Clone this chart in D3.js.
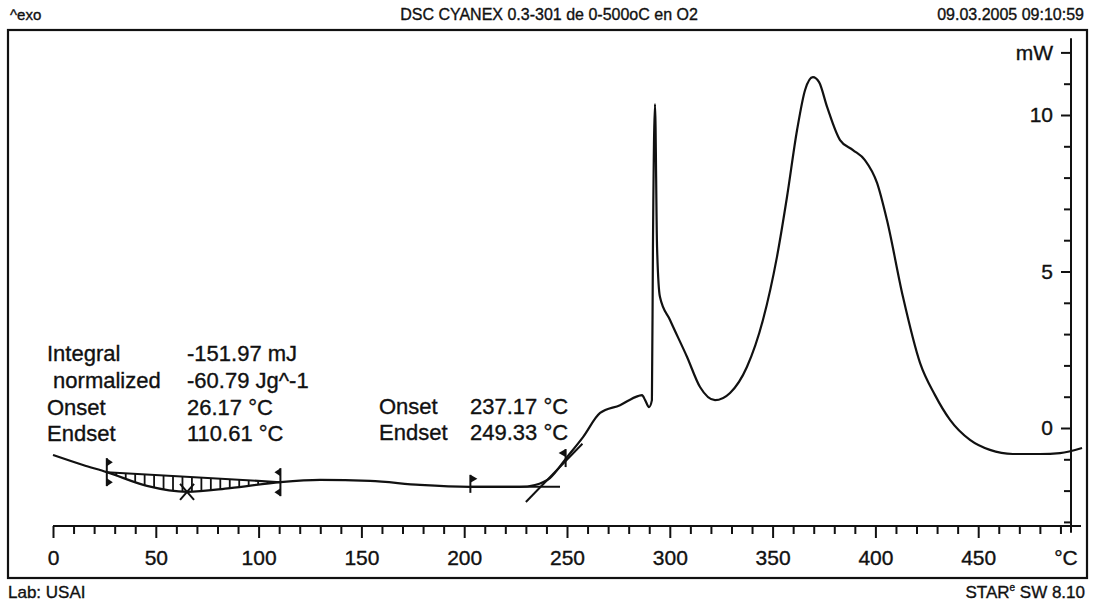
<!DOCTYPE html>
<html><head><meta charset="utf-8">
<script src="https://cdn.jsdelivr.net/npm/d3@7"></script>
<style>
body{margin:0;background:#fff}
svg{display:block}
text{font-family:"Liberation Sans",Arial,Helvetica,sans-serif;fill:#111;stroke:#111;stroke-width:0.35px}
</style>
</head><body>
<svg id="c" width="1096" height="605"></svg>
<script>
// ---- data ----
const temperature = [0, 14.6, 26.17, 45.7, 65.2, 86.1, 110.61, 129.9, 154.2, 178.5, 202.8, 227.1, 234.4, 241.7, 250, 257.8, 266.1, 275.8, 284.5, 286.5, 288.0, 289.9, 291.3, 291.8, 292.8, 293.8, 295.2, 300.1, 308.4, 314.7, 322.0, 329.3, 337.5, 345.3, 352.1, 357.0, 361.9, 365.8, 369.6, 372.6, 376.5, 382.8, 389.1, 394.9, 400.8, 405.6, 413.4, 421.7, 429.0, 436.3, 446.0, 455.7, 466.9, 480.1, 489.8, 500.5];
const heatFlow = [-0.86, -1.18, -1.41, -1.85, -2.04, -1.92, -1.73, -1.66, -1.69, -1.82, -1.88, -1.88, -1.82, -1.60, -0.93, -0.29, 0.48, 0.73, 1.02, 1.05, 0.89, 0.67, 0.89, 5.78, 10.35, 5.78, 4.19, 3.45, 2.27, 1.31, 0.89, 1.12, 1.95, 3.45, 5.46, 7.38, 9.52, 10.80, 11.21, 11.05, 10.26, 9.20, 8.88, 8.56, 7.83, 6.65, 4.19, 2.08, 1.05, 0.26, -0.38, -0.70, -0.83, -0.83, -0.80, -0.64];

const xTicks = d3.range(0, 500, 10);
const xTickLabels = [0, 50, 100, 150, 200, 250, 300, 350, 400, 450];
const yTicks = d3.range(-3, 13, 1);
const yTickLabels = {0: "0", 5: "5", 10: "10", 12: "mW"};

const integralLimits = [26.17, 110.61];
const onsetT = 237.17, endsetT = 249.33;
const baseFlagT = 203;
const baselineLevel = -1.88;
const tangentSlope = 0.0677;   // mW per °C
const tangentRange = [230, 257.5];
const extrapRange = [203, 246.6];

const leftLabels = ["Integral", " normalized", "Onset", "Endset"];
const leftValues = ["-151.97 mJ", "-60.79 Jg^-1", "26.17 °C", "110.61 °C"];
const midLabels = ["Onset", "Endset"];
const midValues = ["237.17 °C", "249.33 °C"];

// ---- drawing ----
const svg = d3.select("#c");
const x = d3.scaleLinear().domain([0, 500]).range([53, 1081]);
const y = d3.scaleLinear().domain([0, 10]).range([428, 115]);
const data = temperature.map((t, i) => ({t, p: heatFlow[i]}));

// frame
svg.append("rect").attr("x", 8).attr("y", 30).attr("width", 1079).attr("height", 548)
  .attr("fill", "none").attr("stroke", "#111").attr("stroke-width", 2.2);

// header & footer
svg.append("text").attr("x", 10).attr("y", 20).attr("font-size", 15).text("^exo");
svg.append("text").attr("x", 549).attr("y", 20).attr("font-size", 16).attr("text-anchor", "middle")
  .text("DSC CYANEX 0.3-301 de 0-500oC en O2");
svg.append("text").attr("x", 1084).attr("y", 20).attr("font-size", 16).attr("text-anchor", "end")
  .text("09.03.2005 09:10:59");
svg.append("text").attr("x", 8).attr("y", 598).attr("font-size", 17).text("Lab: USAI");
const star = svg.append("text").attr("x", 1085).attr("y", 598).attr("font-size", 17).attr("text-anchor", "end");
star.append("tspan").text("STAR");
star.append("tspan").attr("font-size", 10).attr("dy", -7).text("e");
star.append("tspan").attr("dy", 7).text(" SW 8.10");

// x axis
const xAxisY = 526;
const gx = svg.append("g").attr("transform", `translate(0,${xAxisY})`)
  .call(d3.axisBottom(x).tickValues(xTicks).tickSize(8).tickSizeOuter(0)
    .tickFormat(d => xTickLabels.includes(d) ? String(d) : ""));
gx.select(".domain").remove();
gx.append("line").attr("x1", x(0)).attr("x2", x(500)).attr("y1", 0).attr("y2", 0)
  .attr("stroke", "#111").attr("stroke-width", 2);
gx.selectAll(".tick line").attr("stroke", "#111").attr("stroke-width", 2)
  .attr("y2", d => xTickLabels.includes(d) ? 12 : 8);
gx.selectAll(".tick text").attr("y", 39).attr("dy", 0).attr("font-size", 21)
  .attr("font-family", "Liberation Sans, Arial, sans-serif").attr("fill", "#111");
svg.append("text").attr("x", 1066).attr("y", xAxisY + 39).attr("font-size", 21)
  .attr("text-anchor", "middle").text("°C");

// y axis (right side)
const yAxisX = 1071;
const gy = svg.append("g").attr("transform", `translate(${yAxisX},0)`)
  .call(d3.axisLeft(y).tickValues(yTicks).tickSize(7).tickSizeOuter(0)
    .tickFormat(d => yTickLabels[d] || ""));
gy.select(".domain").remove();
gy.append("line").attr("x1", 0).attr("x2", 0).attr("y1", y(12.45)).attr("y2", y(-3.35))
  .attr("stroke", "#111").attr("stroke-width", 2);
gy.selectAll(".tick line").attr("stroke", "#111").attr("stroke-width", 2)
  .attr("x2", d => yTickLabels[d] ? -10 : -7);
gy.selectAll(".tick text").attr("x", -18).attr("font-size", 21)
  .attr("font-family", "Liberation Sans, Arial, sans-serif").attr("fill", "#111");

// integral hatch
const [T0, T1] = integralLimits;
const p0 = data.find(d => d.t === T0).p, p1 = data.find(d => d.t === T1).p;
const base = t => p0 + (p1 - p0) * (t - T0) / (T1 - T0);
const sub = data.filter(d => d.t >= T0 && d.t <= T1);
const clipArea = d3.area().curve(d3.curveMonotoneX)
  .x(d => x(d.t)).y0(d => y(base(d.t))).y1(d => y(d.p));
svg.append("clipPath").attr("id", "hclip").append("path").attr("d", clipArea(sub));
svg.append("g").attr("clip-path", "url(#hclip)")
  .selectAll("line").data(d3.range(T0 + 4.6, T1, 4.6)).join("line")
  .attr("x1", d => x(d)).attr("x2", d => x(d)).attr("y1", 300).attr("y2", 520)
  .attr("stroke", "#111").attr("stroke-width", 1.8);
svg.append("line").attr("x1", x(T0)).attr("y1", y(p0)).attr("x2", x(T1)).attr("y2", y(p1))
  .attr("stroke", "#111").attr("stroke-width", 2);

// main curve
const line = d3.line().curve(d3.curveMonotoneX).x(d => x(d.t)).y(d => y(d.p));
svg.append("path").attr("d", line(data)).attr("fill", "none")
  .attr("stroke", "#111").attr("stroke-width", 2.2).attr("stroke-linejoin", "round");

// limit markers
function limitMarker(t, p, dir) {
  const cx = x(t), cy = y(p), g = svg.append("g");
  g.append("line").attr("x1", cx).attr("x2", cx).attr("y1", cy - 14).attr("y2", cy + 14)
    .attr("stroke", "#111").attr("stroke-width", 2);
  [cy - 14, cy + 6].forEach(ty => {
    g.append("path").attr("d", `M${cx},${ty} L${cx + dir * 6},${ty + 4} L${cx},${ty + 8} Z`).attr("fill", "#111");
  });
}
limitMarker(T0, p0, 1);
limitMarker(T1, p1, -1);

// peak cross
const minPt = sub.reduce((a, b) => (b.p < a.p ? b : a));
const mx = x(minPt.t), my = y(minPt.p);
svg.append("path").attr("d", `M${mx - 7},${my - 8} L${mx + 7},${my + 8} M${mx + 7},${my - 8} L${mx - 7},${my + 8}`)
  .attr("stroke", "#111").attr("stroke-width", 2).attr("fill", "none");

// onset construction
svg.append("line").attr("x1", x(extrapRange[0])).attr("x2", x(extrapRange[1]))
  .attr("y1", y(baselineLevel)).attr("y2", y(baselineLevel)).attr("stroke", "#111").attr("stroke-width", 2);
const tanP = t => baselineLevel + tangentSlope * (t - onsetT);
svg.append("line").attr("x1", x(tangentRange[0])).attr("y1", y(tanP(tangentRange[0])))
  .attr("x2", x(tangentRange[1])).attr("y2", y(tanP(tangentRange[1])))
  .attr("stroke", "#111").attr("stroke-width", 2);
function flag(t, p, dir) {
  const cx = x(t), cy = y(p), g = svg.append("g");
  g.append("line").attr("x1", cx).attr("x2", cx).attr("y1", cy - 12).attr("y2", cy + 6)
    .attr("stroke", "#111").attr("stroke-width", 2);
  g.append("path").attr("d", `M${cx},${cy - 12} L${cx + dir * 7},${cy - 8} L${cx},${cy - 4} Z`).attr("fill", "#111");
}
flag(baseFlagT, baselineLevel, 1);
flag(endsetT, tanP(endsetT), -1);

// annotations
const leftBase = [361, 388, 415, 441];
leftLabels.forEach((s, i) => {
  svg.append("text").attr("x", 47).attr("y", leftBase[i]).attr("font-size", 22)
    .attr("xml:space", "preserve").style("white-space", "pre").text(s);
  svg.append("text").attr("x", 187).attr("y", leftBase[i]).attr("font-size", 22).text(leftValues[i]);
});
const midBase = [414, 440];
midLabels.forEach((s, i) => {
  svg.append("text").attr("x", 379).attr("y", midBase[i]).attr("font-size", 22).text(s);
  svg.append("text").attr("x", 470).attr("y", midBase[i]).attr("font-size", 22).text(midValues[i]);
});
</script>
</body></html>
